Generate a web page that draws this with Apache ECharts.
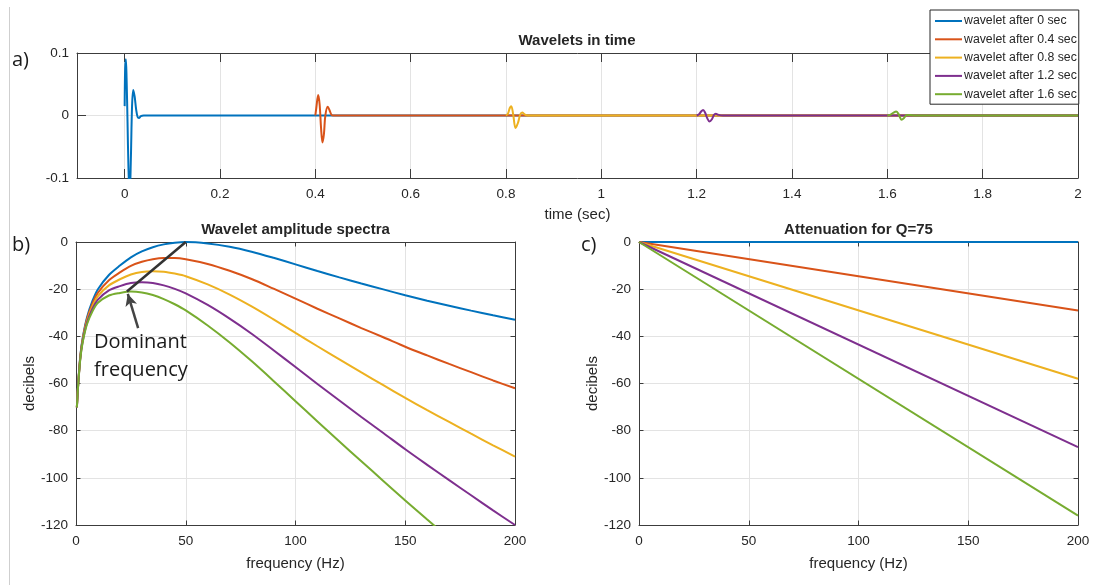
<!DOCTYPE html>
<html>
<head>
<meta charset="utf-8">
<script src="https://cdn.jsdelivr.net/npm/echarts@6/dist/echarts.min.js"></script>
<style>
  html, body { margin: 0; padding: 0; background: #fff; }
  #chart { width: 1094px; height: 585px; }
</style>
</head>
<body>
<div id="chart"></div>
<script>
// ---- series names and colours ----
const seriesNames = ['wavelet after 0 sec', 'wavelet after 0.4 sec', 'wavelet after 0.8 sec',
                     'wavelet after 1.2 sec', 'wavelet after 1.6 sec'];
const colors = ['#0072BD', '#D95319', '#EDB120', '#7E2F8E', '#77AC30'];

// ---- a) wavelets in time (time in s, amplitude) ----
const waveT0 = [0, 0.001, 0.0025, 0.004, 0.006, 0.008, 0.0105, 0.013, 0.0155, 0.018, 0.021, 0.024, 0.027, 0.030, 0.034, 0.040, 2.0];
const waveV0 = [0.015, 0.075, 0.09, 0.06, -0.01, -0.085, -0.13, -0.07, 0.015, 0.041, 0.03, 0.01, -0.002, -0.004, -0.001, 0, 0];

const waveT1 = [0.4, 0.402, 0.406, 0.409, 0.412, 0.415, 0.418, 0.421, 0.426, 0.430, 0.434, 0.438, 2.0];
const waveV1 = [0, 0.012, 0.033, 0.018, -0.02, -0.043, -0.03, 0.0, 0.014, 0.008, 0.001, 0, 0];

const waveT2 = [0.8, 0.804, 0.808, 0.811, 0.815, 0.820, 0.825, 0.830, 0.834, 0.839, 0.845, 2.0];
const waveV2 = [0, 0.003, 0.012, 0.015, 0.002, -0.02, -0.012, 0.002, 0.005, 0.002, 0, 0];

const waveT3 = [1.2, 1.205, 1.209, 1.2135, 1.218, 1.222, 1.227, 1.232, 1.236, 1.240, 1.246, 1.255, 2.0];
const waveV3 = [0, 0.002, 0.006, 0.009, 0.004, -0.004, -0.0095, -0.006, 0.0005, 0.0027, 0.001, 0, 0];

const waveT4 = [1.6, 1.607, 1.613, 1.6185, 1.623, 1.626, 1.630, 1.635, 1.640, 1.645, 1.652, 1.66, 2.0];
const waveV4 = [0, 0.0015, 0.0045, 0.0063, 0.003, -0.002, -0.0068, -0.004, 0.0005, 0.001, 0.0003, 0, 0];

// ---- b) amplitude spectra (Hz, dB) ----
const specFreq = [0.4, 1, 2, 3, 5, 7.5, 10, 15, 20, 25, 30, 35, 40, 45, 50, 60, 70, 80, 90, 100,
                  110, 120, 130, 140, 150, 160, 170, 180, 190, 200];
const spec0  = [-70, -60, -48, -41, -32, -25, -20, -14, -10, -6.5, -4, -2.2, -1, -0.3, 0, -0.6, -2, -4.1, -6.7, -9.5,
                -12.3, -15, -17.6, -20.1, -22.6, -24.9, -27, -29.1, -31.1, -33];
const spec04 = [-70.1, -60.1, -48.3, -41.4, -32.7, -26.1, -21.5, -16.2, -12.9, -10.1, -8.4, -7.3, -6.8, -6.8, -7.3, -9.3, -12.2, -15.7, -19.8, -24,
                -28.3, -32.4, -36.5, -40.4, -44.4, -48.1, -51.7, -55.2, -58.7, -62];
const spec08 = [-70.1, -60.3, -48.6, -41.9, -33.5, -27.2, -22.9, -18.4, -15.8, -13.8, -12.7, -12.4, -12.6, -13.4, -14.5, -18, -22.3, -27.3, -32.8, -38.5,
                -44.2, -49.8, -55.3, -60.7, -66.1, -71.3, -76.3, -81.3, -86.2, -91];
const spec12 = [-70.2, -60.4, -48.9, -42.3, -34.2, -28.3, -24.4, -20.5, -18.7, -17.4, -17.1, -17.4, -18.4, -19.9, -21.8, -26.7, -32.5, -38.9, -45.9, -53,
                -60.2, -67.2, -74.2, -81, -87.9, -94.5, -101, -107.4, -113.8, -120];
const spec16 = [-70.2, -60.6, -49.2, -42.7, -34.9, -29.4, -25.8, -22.7, -21.6, -21, -21.4, -22.5, -24.2, -26.4, -29, -35.4, -42.6, -50.5, -58.9, -67.5,
                -76.1, -84.6, -93, -101.3, -109.6, -117.7, -125.6];

// dominant-frequency trend (Hz, dB) and arrow into its low end
const domLine = [[23.2, -21], [50, 0]];
const domArrow = [[28.3, -36.5], [23.6, -22]];
const domTextAt = [8.2, -36.5];

// ---- c) attenuation for Q=75 (Hz, dB) ----
const attFreq = [0, 200];
const att0  = [0, 0];
const att04 = [0, -29];
const att08 = [0, -58];
const att12 = [0, -87];
const att16 = [0, -116];

// ---- ticks ----
const timeTicks = { min: -0.1, max: 2, splitNumber: 10 };
const ampTicks = { min: -0.1, max: 0.1, interval: 0.1 };
const freqTicks = { min: 0, max: 200, interval: 50 };
const dbTicks = { min: -120, max: 0, interval: 20 };

const pairs = (xs, ys) => ys.map((y, i) => [xs[i], y]);

const FONT = 'Liberation Sans, Arial, Helvetica, sans-serif';
const AXIS_COLOR = '#3c3c3c';
const TEXT_COLOR = '#262626';
const GRID_COLOR = '#e3e3e3';
const TICK_FS = 13.5;
const NAME_FS = 15;

function mainX(grid, ticks, name, tickLen, gap) {
  return Object.assign({
    type: 'value', gridIndex: grid, position: 'bottom',
    name: name, nameLocation: 'middle', nameGap: gap,
    nameTextStyle: { color: TEXT_COLOR, fontSize: NAME_FS, fontFamily: FONT },
    axisLine: { show: true, onZero: false, lineStyle: { color: AXIS_COLOR, width: 1 } },
    axisTick: { show: true, inside: true, length: tickLen, lineStyle: { color: AXIS_COLOR } },
    axisLabel: { color: TEXT_COLOR, fontSize: TICK_FS, fontFamily: FONT, margin: 9,
                 showMinLabel: grid !== 0, hideOverlap: false },
    splitLine: { show: true, lineStyle: { color: GRID_COLOR, width: 1 } }
  }, ticks);
}
function mainY(grid, ticks, name, tickLen, gap) {
  return Object.assign({
    type: 'value', gridIndex: grid, position: 'left',
    name: name, nameLocation: 'middle', nameGap: gap,
    nameTextStyle: { color: TEXT_COLOR, fontSize: NAME_FS, fontFamily: FONT },
    axisLine: { show: true, onZero: false, lineStyle: { color: AXIS_COLOR, width: 1 } },
    axisTick: { show: true, inside: true, length: tickLen, lineStyle: { color: AXIS_COLOR } },
    axisLabel: { color: TEXT_COLOR, fontSize: TICK_FS, fontFamily: FONT, margin: 8 },
    splitLine: { show: true, lineStyle: { color: GRID_COLOR, width: 1 } }
  }, ticks);
}
function boxX(grid, ticks, tickLen) {
  return Object.assign({
    type: 'value', gridIndex: grid, position: 'top',
    axisLine: { show: true, onZero: false, lineStyle: { color: AXIS_COLOR, width: 1 } },
    axisTick: { show: true, inside: true, length: tickLen, lineStyle: { color: AXIS_COLOR } },
    axisLabel: { show: false }, splitLine: { show: false }
  }, ticks);
}
function boxY(grid, ticks, tickLen) {
  return Object.assign({
    type: 'value', gridIndex: grid, position: 'right',
    axisLine: { show: true, onZero: false, lineStyle: { color: AXIS_COLOR, width: 1 } },
    axisTick: { show: true, inside: true, length: tickLen, lineStyle: { color: AXIS_COLOR } },
    axisLabel: { show: false }, splitLine: { show: false }
  }, ticks);
}

function curve(name, color, data, xi, yi, z) {
  return {
    type: 'line', name: name, data: data, xAxisIndex: xi, yAxisIndex: yi,
    symbol: 'none', showSymbol: false, smooth: false, clip: true, z: z || 3,
    lineStyle: { color: color, width: 2 }, itemStyle: { color: color },
    silent: true, animation: false
  };
}

const waves = [[waveT0, waveV0], [waveT1, waveV1], [waveT2, waveV2], [waveT3, waveV3], [waveT4, waveV4]];
const specs = [spec0, spec04, spec08, spec12, spec16];
const atts = [att0, att04, att08, att12, att16];

const series = [];
waves.forEach((w, i) => series.push(Object.assign(curve(seriesNames[i], colors[i], pairs(w[0], w[1]), 0, 0), { smooth: 0.35 })));
specs.forEach((s, i) => series.push(Object.assign(curve(seriesNames[i], colors[i], pairs(specFreq, s), 2, 2), { smooth: 0.3 })));
atts.forEach((s, i) => series.push(curve(seriesNames[i], colors[i], pairs(attFreq, s), 4, 4)));

// dominant-frequency trend line and arrow
series.push({
  type: 'line', name: 'dominant', data: domLine, xAxisIndex: 2, yAxisIndex: 2,
  symbol: 'none', lineStyle: { color: '#333333', width: 2.5 }, z: 5, silent: true, animation: false,
  markLine: {
    silent: true, animation: false, symbol: ['none', 'arrow'], symbolSize: [9, 12],
    label: { show: false },
    lineStyle: { color: '#444444', width: 2.5, type: 'solid' },
    data: [[{ coord: domArrow[0] }, { coord: domArrow[1] }]]
  }
});

const chart = echarts.init(document.getElementById('chart'), null, { renderer: 'canvas' });

const titleStyle = { color: TEXT_COLOR, fontSize: 15, fontWeight: 'bold', fontFamily: FONT };

chart.setOption({
  backgroundColor: '#ffffff',
  animation: false,
  title: [
    { text: 'Wavelets in time', left: 577, top: 33, textAlign: 'center', padding: 0, textStyle: titleStyle },
    { text: 'Wavelet amplitude spectra', left: 295.5, top: 222, textAlign: 'center', padding: 0, textStyle: titleStyle },
    { text: 'Attenuation for Q=75', left: 858.5, top: 222, textAlign: 'center', padding: 0, textStyle: titleStyle }
  ],
  legend: {
    data: seriesNames, orient: 'vertical', left: 930, top: 10,
    padding: [5, 2, 4, 5], itemGap: 6.3, itemWidth: 27, itemHeight: 12,
    backgroundColor: '#ffffff', borderColor: '#262626', borderWidth: 1, borderRadius: 0,
    textStyle: { color: TEXT_COLOR, fontSize: 12.3, fontFamily: FONT, padding: [0, 0, 0, -3] },
    selectedMode: false, icon: 'path://M0,5 L27,5 L27,7 L0,7 Z'
  },
  grid: [
    { left: 77, top: 53, width: 1001, height: 125 },
    { left: 76, top: 242, width: 439, height: 283 },
    { left: 639, top: 242, width: 439, height: 283 }
  ],
  xAxis: [
    mainX(0, timeTicks, 'time (sec)', 9, 29), boxX(0, timeTicks, 9),
    mainX(1, freqTicks, 'frequency (Hz)', 4.5, 31), boxX(1, freqTicks, 4.5),
    mainX(2, freqTicks, 'frequency (Hz)', 4.5, 31), boxX(2, freqTicks, 4.5)
  ],
  yAxis: [
    mainY(0, ampTicks, '', 9, 40), boxY(0, ampTicks, 9),
    mainY(1, dbTicks, 'decibels', 4.5, 38), boxY(1, dbTicks, 4.5),
    mainY(2, dbTicks, 'decibels', 4.5, 34), boxY(2, dbTicks, 4.5)
  ],
  series: series
});

// panel letters, annotation text and a thin page rule at the left
const textAt = chart.convertToPixel({ gridIndex: 1 }, domTextAt);
const labelFont = '"Open Sans", "Noto Sans", sans-serif';
chart.setOption({
  graphic: [
    { type: 'line', shape: { x1: 9.5, y1: 7, x2: 9.5, y2: 585 }, style: { stroke: '#cfcfcf', lineWidth: 1 }, silent: true },
    { type: 'text', x: 12, y: 60, style: { text: 'a)', font: '20px ' + labelFont, fill: '#1a1a1a', verticalAlign: 'middle' }, silent: true },
    { type: 'text', x: 12, y: 245, style: { text: 'b)', font: '20px ' + labelFont, fill: '#1a1a1a', verticalAlign: 'middle' }, silent: true },
    { type: 'text', x: 581, y: 245, style: { text: 'c)', font: '20px ' + labelFont, fill: '#1a1a1a', verticalAlign: 'middle' }, silent: true },
    { type: 'text', x: textAt[0], y: textAt[1], z: 10,
      style: { text: 'Dominant\nfrequency', font: '20px ' + labelFont, lineHeight: 28, fill: '#1a1a1a',
               verticalAlign: 'top', backgroundColor: 'transparent' }, silent: true }
  ]
});
</script>
</body>
</html>
